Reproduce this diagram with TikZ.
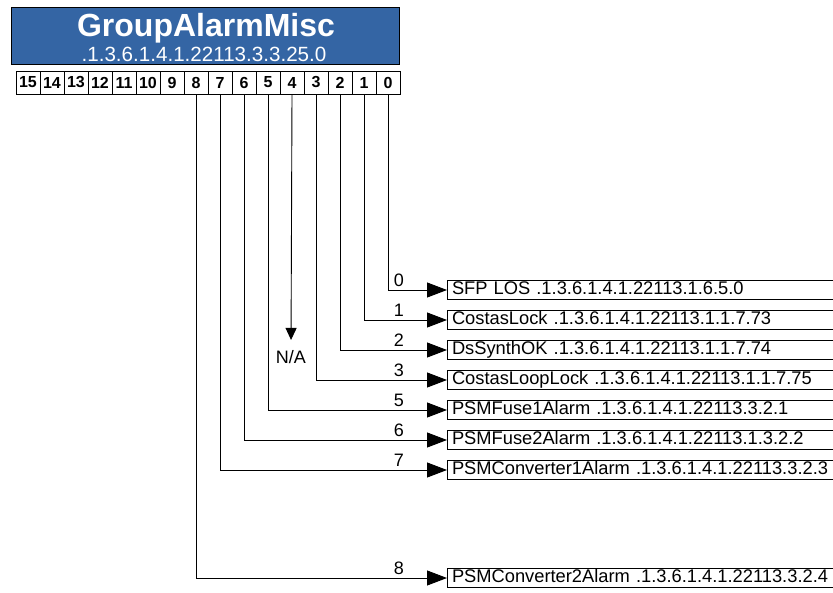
\documentclass[tikz,border=0pt]{standalone}
\usepackage{fontspec}
\setmainfont{Liberation Sans}
\usepackage{xcolor}
\usepackage{tikz}
\usetikzlibrary{arrows.meta}

\definecolor{hdrblue}{RGB}{52,101,164}

\begin{document}
\begin{tikzpicture}[
  x=1pt, y=-1pt,
  every node/.style={inner sep=0pt, outer sep=0pt},
  hdr/.style={rectangle, draw=black, line width=0.8pt, fill=hdrblue,
              minimum width=388pt, minimum height=57pt},
  hdrtext/.style={anchor=base, text=white},
  bit/.style={rectangle, draw, line width=0.9pt, minimum width=24pt,
              minimum height=23pt, font=\fontsize{16}{16}\selectfont\bfseries},
  sig/.style={rectangle, draw, line width=0.9pt, anchor=west,
              text width=410pt, align=left, inner xsep=5pt, inner ysep=1pt,
              text height=13pt, text depth=4pt,
              font=\fontsize{18.3}{19}\selectfont},
  num/.style={anchor=base, font=\fontsize{18}{19}\selectfont},
  wire/.style={line width=0.9pt, -{Triangle[length=20pt, width=15pt]}},
]
  \useasboundingbox (0,0) rectangle (833,592);

  % header
  \node[hdr] (hdr) at (205,35.5) {};
  \node[hdrtext, font=\fontsize{32}{32}\selectfont\bfseries] (title) at (206,36) {GroupAlarmMisc};
  \node[hdrtext, font=\fontsize{20.6}{21}\selectfont] (oid) at (204,61) {.1.3.6.1.4.1.22113.3.3.25.0};

  % bit boxes
  \foreach \i in {0,...,15}
    \node[bit] (b\i) at ({388-24*\i},82.5) {\i};

  % signals
  \foreach \b/\y/\txt in {
      0/290/{SFP LOS .1.3.6.1.4.1.22113.1.6.5.0},
      1/320/{CostasLock .1.3.6.1.4.1.22113.1.1.7.73},
      2/350/{DsSynthOK .1.3.6.1.4.1.22113.1.1.7.74},
      3/380/{CostasLoopLock .1.3.6.1.4.1.22113.1.1.7.75},
      5/410/{PSMFuse1Alarm .1.3.6.1.4.1.22113.3.2.1},
      6/440/{PSMFuse2Alarm .1.3.6.1.4.1.22113.1.3.2.2},
      7/470/{PSMConverter1Alarm .1.3.6.1.4.1.22113.3.2.3},
      8/578/{PSMConverter2Alarm .1.3.6.1.4.1.22113.3.2.4}} {
    \node[sig] (s\b) at (447,\y) {\txt};
    \node[num] (n\b) at (399,\y-4) {\b};
    \draw[wire] (b\b.south) |- (s\b.west);
  }

  % unused bit
  \node[num] (na) at (291,363) {N/A};
  \draw[line width=0.9pt, -{Triangle[length=12pt, width=11pt]}, shorten >=10pt]
    (b4.south) -- (na.north);

\end{tikzpicture}
\end{document}
